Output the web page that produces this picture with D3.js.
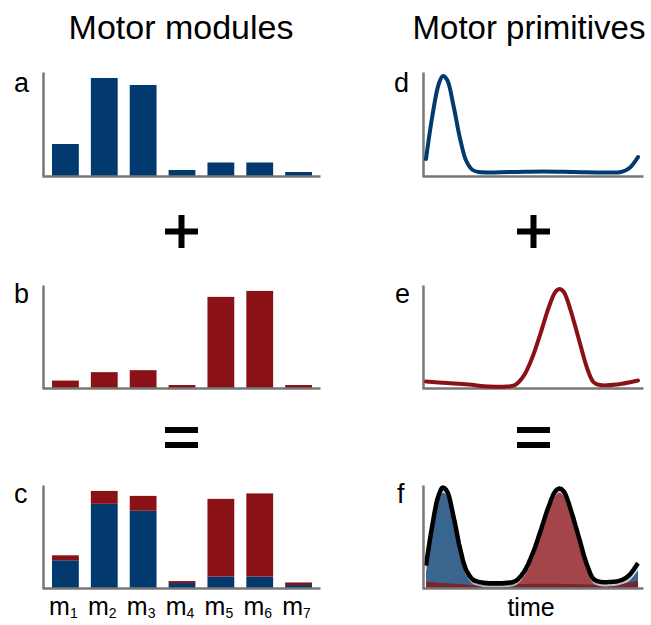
<!DOCTYPE html>
<html>
<head>
<meta charset="utf-8">
<script src="https://cdn.jsdelivr.net/npm/d3@7"></script>
<style>
  body { margin: 0; background: #fff; }
  svg { font-family: "Liberation Sans", Arial, sans-serif; }
</style>
</head>
<body>
<svg width="651" height="625"></svg>
<script>
const width = 651
const height = 625

const blue = "#023a6f"
const red = "#8a1116"
const axisGrey = "#777"

// module weights (bar heights, same units as axis height ~104)
const modules = ["1", "2", "3", "4", "5", "6", "7"]
const moduleA = [32, 98, 91, 6, 13.5, 13.5, 4]
const moduleB = [7.5, 16, 18, 3, 92, 98, 3]
// panel c: stacked parts (blue bottom, red top)
const moduleCblue = [28, 85, 78, 5, 11.5, 11.5, 3]
const moduleCred = [5, 13, 15, 2, 78.5, 84, 2.6]

// primitives, time 0..100
const timeD = [0, 3, 6, 8, 10, 13, 16, 19, 22, 25, 40, 55, 70, 85, 92, 96, 100]
const primD = [17, 60, 92, 100, 96, 70, 38, 15, 6, 4, 4, 4.5, 4, 3.5, 4, 8, 19]
const timeE = [0, 10, 20, 30, 38, 42, 46, 50, 54, 58, 61, 63, 65, 68, 72, 76, 79, 82, 90, 100]
const primE = [6.5, 5, 3.5, 1.5, 1.5, 3, 12, 30, 55, 82, 97, 100, 97, 80, 50, 20, 6, 3, 3.5, 7.5]

const svg = d3.select("svg")

// titles
svg.append("text").attr("x", 181).attr("y", 39).attr("text-anchor", "middle")
    .attr("font-size", "34px").text("Motor modules")
svg.append("text").attr("x", 529).attr("y", 39).attr("text-anchor", "middle")
    .attr("font-size", "33px").text("Motor primitives")

// + and = signs, drawn as bars
function plus(cx, cy) {
  svg.append("rect").attr("x", cx - 16.5).attr("y", cy - 3).attr("width", 33).attr("height", 6)
  svg.append("rect").attr("x", cx - 3).attr("y", cy - 16.5).attr("width", 6).attr("height", 33)
}
function equals(cx, cy) {
  svg.append("rect").attr("x", cx - 16.5).attr("y", cy - 10.5).attr("width", 33).attr("height", 6)
  svg.append("rect").attr("x", cx - 16.5).attr("y", cy + 4.5).attr("width", 33).attr("height", 6)
}
plus(181.5, 231.5)
plus(533.5, 231.5)
equals(181.5, 437.5)
equals(533.5, 437.5)

// panel rows
const rows = [{top: 72, base: 176}, {top: 285, base: 388}, {top: 485, base: 588}]

function drawAxes(x0, x1, top, base) {
  const yAx = d3.scaleLinear().range([base, top])
  svg.append("g").attr("transform", `translate(${x0},0)`)
      .call(d3.axisLeft(yAx).ticks(0).tickSizeOuter(0))
      .call(g => g.select(".domain").attr("stroke", axisGrey).attr("stroke-width", 2.5))
  const xAx = d3.scaleLinear().range([x0 - 1, x1])
  svg.append("g").attr("transform", `translate(0,${base})`)
      .call(d3.axisBottom(xAx).ticks(0).tickSizeOuter(0))
      .call(g => g.select(".domain").attr("stroke", axisGrey).attr("stroke-width", 2.5))
}

function letter(x, y, t) {
  svg.append("text").attr("x", x).attr("y", y).attr("font-size", "27px").text(t)
}

// ---- bar panels ----
const x = d3.scaleBand().domain(modules).range([52, 312]).paddingInner(0.31).paddingOuter(0)

function barPanel(row, vals, color) {
  const y = d3.scaleLinear().domain([0, 104]).range([row.base, row.top])
  svg.append("g").selectAll("rect").data(vals).join("rect")
      .attr("x", (d, i) => x(modules[i]))
      .attr("width", x.bandwidth())
      .attr("y", d => y(d))
      .attr("height", d => y(0) - y(d))
      .attr("fill", color)
  drawAxes(43, 320, row.top, row.base)
}

barPanel(rows[0], moduleA, blue)
barPanel(rows[1], moduleB, red)

// stacked panel c
{
  const row = rows[2]
  const y = d3.scaleLinear().domain([0, 104]).range([row.base, row.top])
  const stackData = modules.map((m, i) => ({m: m, blue: moduleCblue[i], red: moduleCred[i]}))
  const series = d3.stack().keys(["blue", "red"])(stackData)
  svg.append("g").selectAll("g").data(series).join("g")
      .attr("fill", d => d.key === "blue" ? blue : red)
      .selectAll("rect").data(d => d).join("rect")
      .attr("x", d => x(d.data.m))
      .attr("width", x.bandwidth())
      .attr("y", d => y(d[1]))
      .attr("height", d => y(d[0]) - y(d[1]))
  drawAxes(43, 320, row.top, row.base)

  const lab = svg.append("g").selectAll("text").data(modules).join("text")
      .attr("x", d => x(d) + x.bandwidth() / 2 - 2)
      .attr("y", 615)
      .attr("text-anchor", "middle")
      .attr("font-size", "25px")
  lab.append("tspan").text("m")
  lab.append("tspan").attr("font-size", "14px").attr("dy", "3").text(d => d)
}

letter(14, 92, "a")
letter(14, 303, "b")
letter(14, 503, "c")

// ---- primitive panels ----
const t = d3.scaleLinear().domain([0, 100]).range([426, 638])

function linePanel(row, ts, vals, color, ymax) {
  const y = d3.scaleLinear().domain([0, ymax]).range([row.base, row.top])
  drawAxes(423, 643, row.top, row.base)
  const line = d3.line().x((d, i) => t(ts[i])).y(d => y(d)).curve(d3.curveCatmullRom)
  svg.append("path").datum(vals)
      .attr("d", line)
      .attr("fill", "none")
      .attr("stroke", color)
      .attr("stroke-width", 4)
      .attr("stroke-linecap", "round")
}

linePanel(rows[0], timeD, primD, blue, 104)
linePanel(rows[1], timeE, primE, red, 104)

// panel f: both primitives as areas plus their sum
{
  const row = rows[2]
  const y = d3.scaleLinear().domain([0, 108]).range([row.base, row.top])
  // put both primitives on a common time grid
  const grid = d3.range(0, 100.5, 0.5)
  const dLine = d3.line().x((d, i) => t(timeD[i])).y(d => y(d)).curve(d3.curveCatmullRom)
  const eLine = d3.line().x((d, i) => t(timeE[i])).y(d => y(d)).curve(d3.curveCatmullRom)

  const sampler = (pathStr) => {
    const p = svg.append("path").attr("d", pathStr).attr("fill", "none")
    const node = p.node(), L = node.getTotalLength()
    const pts = d3.range(0, L, 0.5).map(l => node.getPointAtLength(l))
    p.remove()
    return px => {
      let best = pts[0]
      for (const q of pts) if (Math.abs(q.x - px) < Math.abs(best.x - px)) best = q
      return y.invert(best.y)
    }
  }
  const dAt = sampler(dLine(primD))
  const eAt = sampler(eLine(primE))
  const comb = grid.map(g => ({t: g, d: dAt(t(g)), e: eAt(t(g))}))

  const area = key => d3.area().x(d => t(d.t)).y0(y(0)).y1(d => y(d[key]))
  svg.append("path").datum(comb).attr("d", area("d"))
      .attr("fill", blue).attr("fill-opacity", 0.78)
  svg.append("path").datum(comb).attr("d", area("e"))
      .attr("fill", red).attr("fill-opacity", 0.78)

  const sum = d3.line().x(d => t(d.t)).y(d => y(d.d + d.e))
  svg.append("path").datum(comb).attr("d", sum)
      .attr("fill", "none").attr("stroke", "#bbb").attr("stroke-width", 1.5)
      .attr("transform", "translate(0,3.5)")
  svg.append("path").datum(comb).attr("d", sum)
      .attr("fill", "none").attr("stroke", "#000").attr("stroke-width", 4.5)
      .attr("stroke-linejoin", "round")
  drawAxes(423, 643, row.top, row.base)

  svg.append("text").attr("x", 531).attr("y", 616).attr("text-anchor", "middle")
      .attr("font-size", "25px").text("time")
}

letter(394, 92, "d")
letter(395, 303, "e")
letter(397, 503, "f")
</script>
</body>
</html>
